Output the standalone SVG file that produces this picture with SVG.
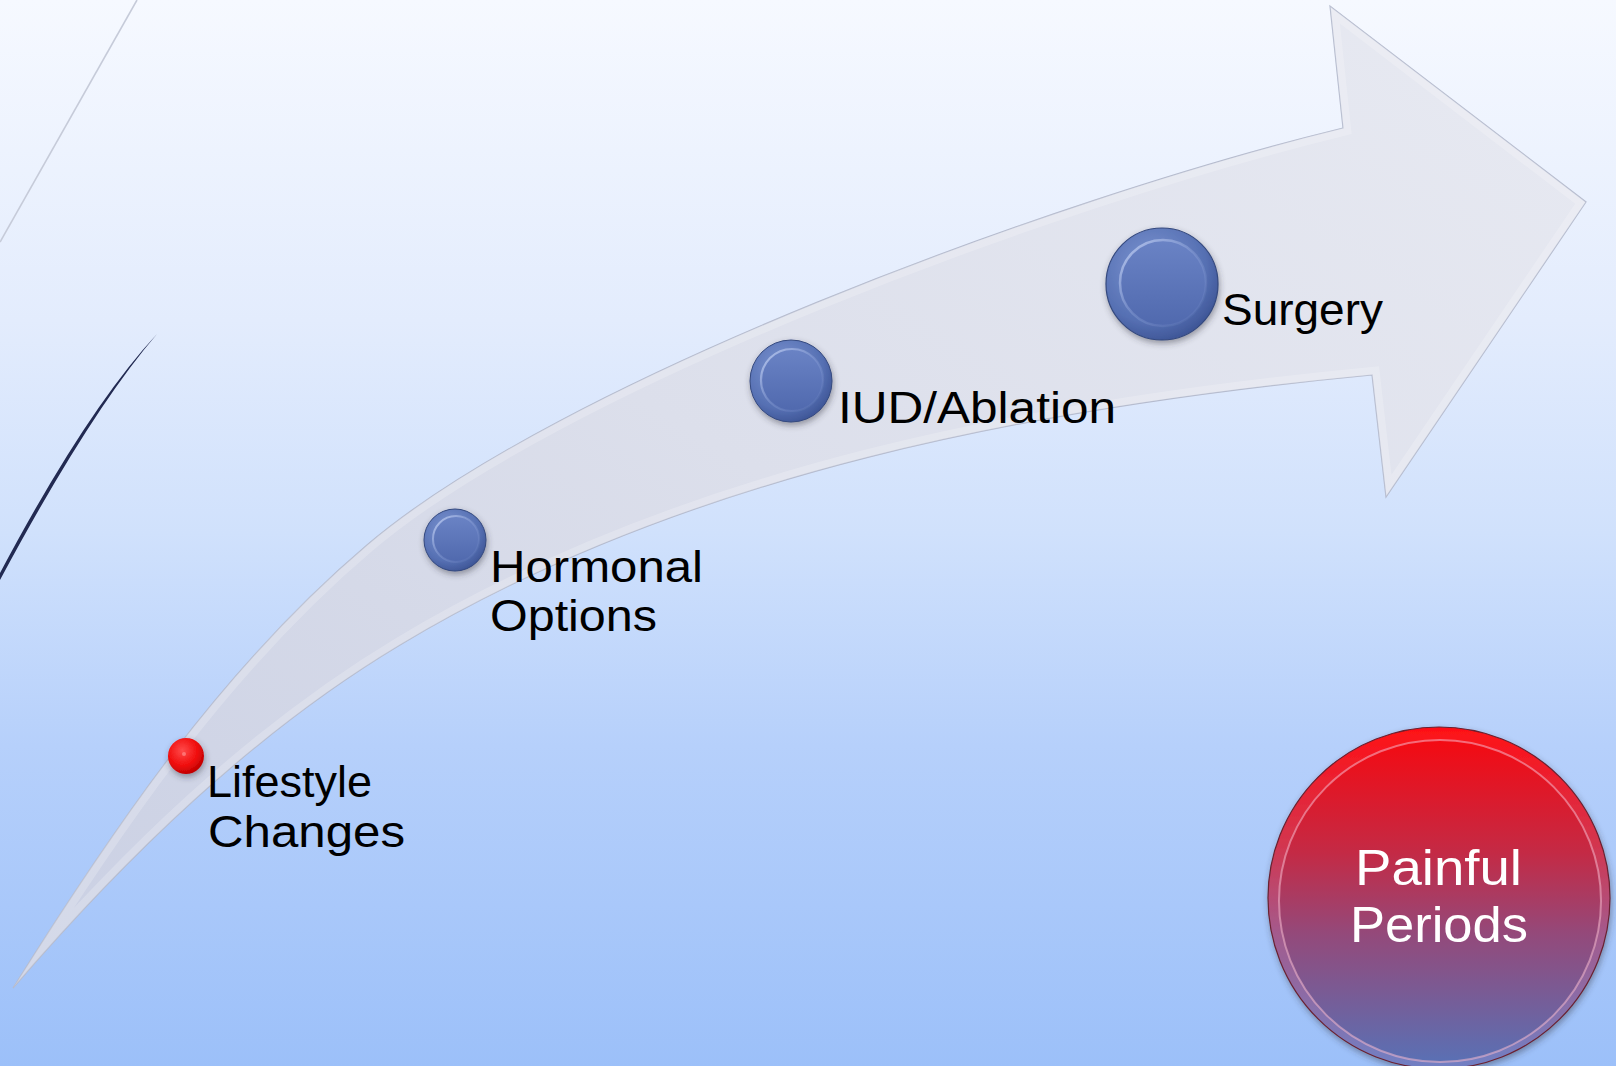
<svg xmlns="http://www.w3.org/2000/svg" width="1616" height="1066" viewBox="0 0 1616 1066">
<style>
.lbl{font-family:"Liberation Sans","DejaVu Sans",sans-serif;font-size:43.5px;fill:#000;}
.big{font-family:"Liberation Sans","DejaVu Sans",sans-serif;font-size:50px;fill:#fff;}
</style>
<defs>
<linearGradient id="bg" x1="0" y1="0" x2="0" y2="1">
<stop offset="0" stop-color="#f6f9ff"/>
<stop offset="0.3" stop-color="#e3ecfd"/>
<stop offset="0.5" stop-color="#d0e1fc"/>
<stop offset="0.7" stop-color="#b6d0fb"/>
<stop offset="1" stop-color="#9cc0f9"/>
</linearGradient>
<linearGradient id="arrowFill" x1="1" y1="0" x2="0" y2="1">
<stop offset="0" stop-color="#e8eaf2"/>
<stop offset="0.5" stop-color="#dcdfeb"/>
<stop offset="1" stop-color="#c9cfe3"/>
</linearGradient>
<radialGradient id="blueOuter" cx="0.4" cy="0.35" r="0.7">
<stop offset="0" stop-color="#7f97d3"/>
<stop offset="0.7" stop-color="#5670b3"/>
<stop offset="1" stop-color="#3b5293"/>
</radialGradient>
<linearGradient id="blueInner" x1="0" y1="0" x2="0" y2="1">
<stop offset="0" stop-color="#6a83c5"/>
<stop offset="1" stop-color="#5069ae"/>
</linearGradient>
<linearGradient id="blueHi" x1="0" y1="0" x2="1" y2="1">
<stop offset="0" stop-color="#c2d0f2" stop-opacity="0.9"/>
<stop offset="0.5" stop-color="#a0b3e4" stop-opacity="0.3"/>
<stop offset="1" stop-color="#a0b3e4" stop-opacity="0"/>
</linearGradient>
<radialGradient id="redBall" cx="0.4" cy="0.35" r="0.7">
<stop offset="0" stop-color="#ff4a4a"/>
<stop offset="0.6" stop-color="#f00d0d"/>
<stop offset="1" stop-color="#b80000"/>
</radialGradient>
<linearGradient id="painGrad" x1="0" y1="0" x2="0" y2="1">
<stop offset="0" stop-color="#f40a12"/>
<stop offset="0.35" stop-color="#c42a45"/>
<stop offset="0.6" stop-color="#94497a"/>
<stop offset="1" stop-color="#5a70b4"/>
</linearGradient>
<linearGradient id="painRim" x1="0" y1="0" x2="0" y2="1">
<stop offset="0" stop-color="#ff1016"/>
<stop offset="0.35" stop-color="#d23650"/>
<stop offset="0.6" stop-color="#a45a8c"/>
<stop offset="1" stop-color="#7080c4"/>
</linearGradient>
<filter id="shadow" x="-30%" y="-30%" width="160%" height="160%">
<feDropShadow dx="1" dy="3" stdDeviation="3" flood-color="#303040" flood-opacity="0.45"/>
</filter>
<clipPath id="arrowClip">
<path d="M13,988 C114,827 222,668 367,545 C557,383 1051,199 1343,128 L1330,6 L1586,202 L1386,497 L1372,375 C1038,407 688,472 400,645 C253,733 125,858 13,988 Z"/>
</clipPath>
</defs>

<rect width="1616" height="1066" fill="url(#bg)"/>

<g id="decor">
<path d="M137,0 Q68,121 0,242" fill="none" stroke="#c6cbd9" stroke-width="1.6"/>
<path d="M157,334 Q87,409 0,573 L0,580 Q90,412 157,334 Z" fill="#222a52"/>
</g>

<g id="connectors">
<g id="arrow">
<path d="M13,988 C114,827 222,668 367,545 C557,383 1051,199 1343,128 L1330,6 L1586,202 L1386,497 L1372,375 C1038,407 688,472 400,645 C253,733 125,858 13,988 Z" fill="url(#arrowFill)" stroke="#b4bacd" stroke-width="1.2"/>
<path clip-path="url(#arrowClip)" d="M13,988 C114,827 222,668 367,545 C557,383 1051,199 1343,128 L1330,6 L1586,202 L1386,497 L1372,375 C1038,407 688,472 400,645 C253,733 125,858 13,988 Z" fill="none" stroke="#ffffff" stroke-opacity="0.2" stroke-width="16"/>
</g>
</g>

<g id="node-lifestyle">
<circle cx="186" cy="756" r="18" fill="url(#redBall)" filter="url(#shadow)"/>
<circle cx="184" cy="754" r="2" fill="#ff8a8a" fill-opacity="0.7"/>
<text class="lbl" x="207" y="797" textLength="165" lengthAdjust="spacingAndGlyphs">Lifestyle</text>
<text class="lbl" x="208" y="847" textLength="197" lengthAdjust="spacingAndGlyphs">Changes</text>
</g>

<g id="node-hormonal">
<circle cx="455" cy="540" r="31" fill="url(#blueOuter)" stroke="#34497f" stroke-width="1" filter="url(#shadow)"/>
<circle cx="456" cy="539" r="23" fill="url(#blueInner)" stroke="url(#blueHi)" stroke-width="2"/>
<text class="lbl" x="490" y="582" textLength="213" lengthAdjust="spacingAndGlyphs">Hormonal</text>
<text class="lbl" x="490" y="631" textLength="167" lengthAdjust="spacingAndGlyphs">Options</text>
</g>

<g id="node-iud">
<circle cx="791" cy="381" r="41" fill="url(#blueOuter)" stroke="#34497f" stroke-width="1" filter="url(#shadow)"/>
<circle cx="792" cy="380" r="31" fill="url(#blueInner)" stroke="url(#blueHi)" stroke-width="2.2"/>
<text class="lbl" x="838" y="423" textLength="278" lengthAdjust="spacingAndGlyphs">IUD/Ablation</text>
</g>

<g id="node-surgery">
<circle cx="1162" cy="284" r="56" fill="url(#blueOuter)" stroke="#34497f" stroke-width="1.2" filter="url(#shadow)"/>
<circle cx="1163" cy="283" r="43" fill="url(#blueInner)" stroke="url(#blueHi)" stroke-width="2.5"/>
<text class="lbl" x="1222" y="325" textLength="161" lengthAdjust="spacingAndGlyphs">Surgery</text>
</g>

<g id="node-painful">
<circle cx="1439" cy="898" r="171" fill="url(#painRim)" stroke="#6a2030" stroke-width="1.2" filter="url(#shadow)"/>
<circle cx="1440" cy="901" r="161" fill="url(#painGrad)" stroke="#f4b8cc" stroke-opacity="0.55" stroke-width="2"/>
<text class="big" x="1355" y="885" textLength="167" lengthAdjust="spacingAndGlyphs">Painful</text>
<text class="big" x="1350" y="942" textLength="178" lengthAdjust="spacingAndGlyphs">Periods</text>
</g>
</svg>
